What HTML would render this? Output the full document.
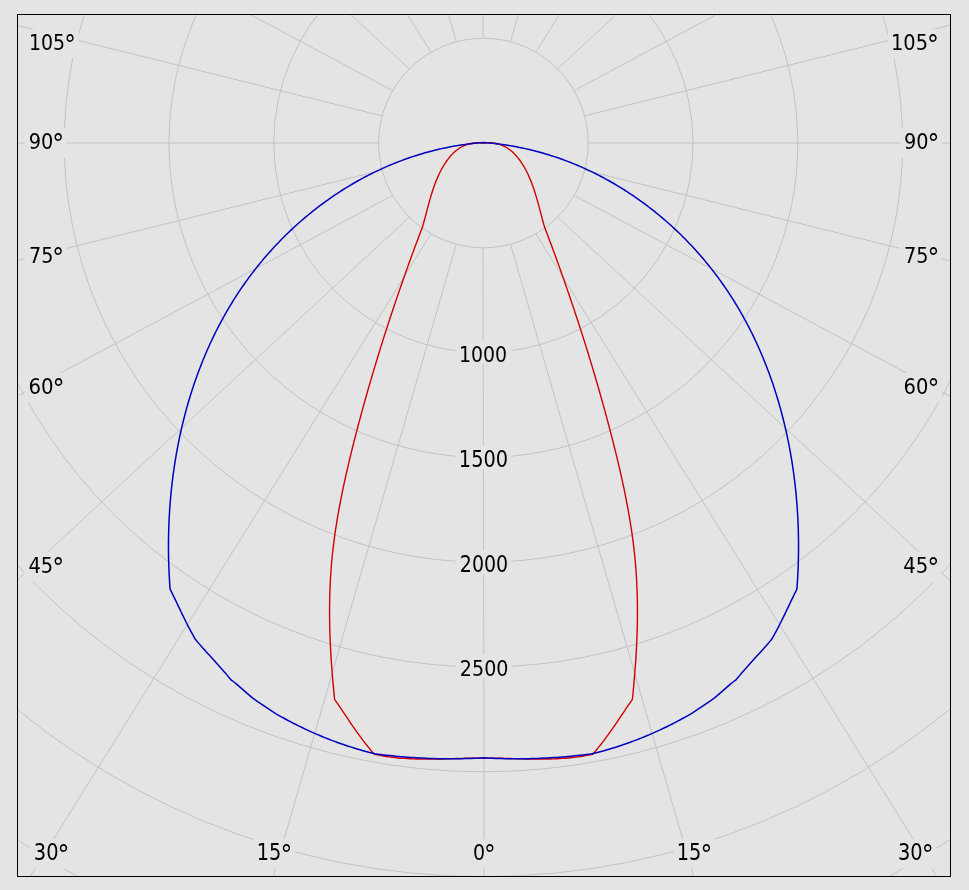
<!DOCTYPE html>
<html><head><meta charset="utf-8"><title>Polar diagram</title>
<style>
html,body{margin:0;padding:0;background:#e4e4e4;}
body{width:969px;height:890px;overflow:hidden;}
svg{display:block;}
text{font-family:'DejaVu Sans',sans-serif;font-stretch:condensed;font-size:22px;fill:#000;}
</style></head>
<body>
<svg width="969" height="890" viewBox="0 0 969 890">
<defs><clipPath id="c"><rect x="18" y="15" width="932" height="861"/></clipPath></defs>
<rect x="0" y="0" width="969" height="890" fill="#e4e4e4"/>
<g clip-path="url(#c)">
<g fill="none" stroke="#c3c3c3" stroke-width="1">
<circle cx="483.4" cy="143" r="104.8"/>
<circle cx="483.4" cy="143" r="209.6"/>
<circle cx="483.4" cy="143" r="314.4"/>
<circle cx="483.4" cy="143" r="419.2"/>
<circle cx="483.4" cy="143" r="524"/>
<circle cx="483.4" cy="143" r="628.8"/>
<circle cx="483.4" cy="143" r="733.6"/>
<circle cx="483.4" cy="143" r="838.4"/>
<circle cx="483.4" cy="143" r="943.2"/>
<line x1="483" y1="247.8" x2="488.7" y2="3143"/>
<line x1="456.28" y1="244.23" x2="-382.3" y2="3142.01"/>
<line x1="510.52" y1="244.23" x2="1349.1" y2="3142.01"/>
<line x1="431" y1="233.76" x2="-1189" y2="2831.84"/>
<line x1="535.8" y1="233.76" x2="2155.8" y2="2831.84"/>
<line x1="409.3" y1="217.1" x2="-1881.73" y2="2338.43"/>
<line x1="557.5" y1="217.1" x2="2848.53" y2="2338.43"/>
<line x1="392.64" y1="195.4" x2="-2413.28" y2="1695.4"/>
<line x1="574.16" y1="195.4" x2="3380.08" y2="1695.4"/>
<line x1="382.17" y1="170.12" x2="-2747.43" y2="946.58"/>
<line x1="584.63" y1="170.12" x2="3714.23" y2="946.58"/>
<line x1="378.6" y1="143" x2="-2861.4" y2="143"/>
<line x1="588.2" y1="143" x2="3828.2" y2="143"/>
<line x1="382.17" y1="115.88" x2="-2747.43" y2="-660.58"/>
<line x1="584.63" y1="115.88" x2="3714.23" y2="-660.58"/>
<line x1="392.64" y1="90.6" x2="-2413.28" y2="-1409.4"/>
<line x1="574.16" y1="90.6" x2="3380.08" y2="-1409.4"/>
<line x1="409.3" y1="68.9" x2="-1881.73" y2="-2052.43"/>
<line x1="557.5" y1="68.9" x2="2848.53" y2="-2052.43"/>
<line x1="431" y1="52.24" x2="-1189" y2="-2545.84"/>
<line x1="535.8" y1="52.24" x2="2155.8" y2="-2545.84"/>
<line x1="456.28" y1="41.77" x2="-382.3" y2="-2856.01"/>
<line x1="510.52" y1="41.77" x2="1349.1" y2="-2856.01"/>
<line x1="483" y1="38.2" x2="483" y2="-2857"/>
</g>
<g fill="#e4e4e4">
<rect x="455.5" y="340.35" width="56" height="23.9"/>
<rect x="455.5" y="445.35" width="56" height="23.9"/>
<rect x="455.5" y="550.35" width="56" height="23.9"/>
<rect x="455.5" y="654.5" width="56" height="23.9"/>
<rect x="25.9" y="29.2" width="52.8" height="29"/>
<rect x="24.7" y="128" width="41.9" height="29.5"/>
<rect x="24.9" y="242" width="41.7" height="29.4"/>
<rect x="24.4" y="373" width="42.6" height="29.3"/>
<rect x="24.4" y="552.3" width="42.2" height="29"/>
<rect x="29.8" y="838.8" width="42.1" height="29.6"/>
<rect x="253.8" y="838.8" width="40.9" height="29.6"/>
<rect x="468.9" y="839.1" width="29.9" height="29.4"/>
<rect x="673.8" y="838.8" width="40.9" height="29.6"/>
<rect x="893.9" y="838.8" width="42.1" height="29.6"/>
<rect x="899.2" y="552.1" width="42.6" height="29.3"/>
<rect x="899.6" y="373" width="42.2" height="29.5"/>
<rect x="899.9" y="242" width="41.9" height="29.4"/>
<rect x="899.9" y="128" width="41.9" height="29.5"/>
<rect x="888" y="29.2" width="53.8" height="29"/>
</g>
<g>
<text transform="translate(458.99 361.8) scale(0.955 0.994)">1000</text>
<text transform="translate(458.85 466.9) scale(0.977 1.006)">1500</text>
<text transform="translate(459.84 571.9) scale(0.960 1.006)">2000</text>
<text transform="translate(459.84 675.9) scale(0.965 0.987)">2500</text>
<text transform="translate(28.98 49.7) scale(0.958 0.969)">105<tspan style="font-size:27px" dx="-1" dy="4">°</tspan></text>
<text transform="translate(28.72 149) scale(0.976 1.000)">90<tspan style="font-size:27px" dx="-1" dy="4">°</tspan></text>
<text transform="translate(28.93 262.9) scale(0.970 0.994)">75<tspan style="font-size:27px" dx="-1" dy="4">°</tspan></text>
<text transform="translate(28.4 393.8) scale(0.997 0.988)">60<tspan style="font-size:27px" dx="-1" dy="4">°</tspan></text>
<text transform="translate(28.42 572.8) scale(0.985 0.969)">45<tspan style="font-size:27px" dx="-1" dy="4">°</tspan></text>
<text transform="translate(33.82 859.9) scale(0.982 1.006)">30<tspan style="font-size:27px" dx="-1" dy="4">°</tspan></text>
<text transform="translate(256.85 859.9) scale(0.975 1.006)">15<tspan style="font-size:27px" dx="-1" dy="4">°</tspan></text>
<text transform="translate(472.94 860) scale(0.962 0.994)">0<tspan style="font-size:27px" dx="-1" dy="4">°</tspan></text>
<text transform="translate(676.85 859.9) scale(0.975 1.006)">15<tspan style="font-size:27px" dx="-1" dy="4">°</tspan></text>
<text transform="translate(897.92 859.9) scale(0.982 1.006)">30<tspan style="font-size:27px" dx="-1" dy="4">°</tspan></text>
<text transform="translate(903.2 572.9) scale(0.997 0.987)">45<tspan style="font-size:27px" dx="-1" dy="4">°</tspan></text>
<text transform="translate(903.62 394) scale(0.985 1.000)">60<tspan style="font-size:27px" dx="-1" dy="4">°</tspan></text>
<text transform="translate(903.92 262.9) scale(0.976 0.994)">75<tspan style="font-size:27px" dx="-1" dy="4">°</tspan></text>
<text transform="translate(903.92 149) scale(0.976 1.000)">90<tspan style="font-size:27px" dx="-1" dy="4">°</tspan></text>
<text transform="translate(891.04 49.7) scale(0.980 0.969)">105<tspan style="font-size:27px" dx="-1" dy="4">°</tspan></text>
</g>
<polyline fill="none" stroke="#d00000" stroke-width="1.4" stroke-linejoin="round" points="483.5,143.3 480.03,142.86 476.7,142.75 473.52,142.95 470.48,143.45 467.58,144.22 464.81,145.25 462.17,146.52 459.65,148.01 457.26,149.7 454.98,151.57 452.82,153.61 450.78,155.79 448.84,158.1 447,160.52 445.27,163.03 443.64,165.62 442.09,168.28 440.64,170.99 439.26,173.77 437.96,176.6 436.73,179.47 435.57,182.38 434.47,185.33 433.43,188.31 432.43,191.31 431.48,194.32 430.57,197.34 429.69,200.37 428.85,203.4 428.03,206.43 427.22,209.44 426.43,212.43 425.65,215.39 424.87,218.33 424.09,221.23 423.3,224.09 422.5,226.9 421.43,229.71 420.36,232.52 419.3,235.33 418.24,238.14 417.19,240.96 416.14,243.78 415.09,246.6 414.05,249.42 413.01,252.24 411.97,255.07 410.94,257.89 409.92,260.72 408.89,263.55 407.87,266.38 406.86,269.22 405.85,272.05 404.84,274.89 403.84,277.73 402.84,280.57 401.84,283.41 400.85,286.26 399.87,289.11 398.88,291.95 397.9,294.8 396.93,297.66 395.96,300.51 394.99,303.37 394.03,306.22 393.07,309.08 392.12,311.94 391.17,314.8 390.22,317.67 389.28,320.53 388.35,323.4 387.42,326.27 386.49,329.14 385.56,332.01 384.64,334.89 383.73,337.76 382.82,340.64 381.91,343.52 381.01,346.4 380.11,349.28 379.22,352.17 378.33,355.05 377.45,357.94 376.57,360.83 375.69,363.72 374.82,366.61 373.96,369.51 373.09,372.4 372.24,375.3 371.39,378.2 370.54,381.1 369.69,384 368.86,386.9 368.02,389.81 367.19,392.71 366.37,395.62 365.55,398.53 364.73,401.44 363.92,404.36 363.11,407.27 362.31,410.18 361.52,413.1 360.72,416.02 359.94,418.94 359.15,421.86 358.38,424.79 357.6,427.71 356.84,430.64 356.07,433.56 355.31,436.49 354.56,439.42 353.82,442.36 353.07,445.29 352.34,448.22 351.61,451.16 350.89,454.1 350.17,457.04 349.47,459.98 348.77,462.92 348.08,465.86 347.39,468.81 346.72,471.76 346.05,474.7 345.39,477.65 344.74,480.6 344.1,483.55 343.47,486.51 342.85,489.46 342.24,492.42 341.65,495.38 341.06,498.33 340.48,501.29 339.91,504.25 339.36,507.22 338.82,510.18 338.29,513.15 337.77,516.11 337.27,519.08 336.78,522.05 336.31,525.02 335.84,527.99 335.4,530.96 334.96,533.94 334.55,536.91 334.15,539.89 333.76,542.87 333.39,545.85 333.04,548.83 332.7,551.81 332.38,554.79 332.08,557.78 331.8,560.76 331.53,563.75 331.29,566.74 331.06,569.73 330.85,572.72 330.65,575.71 330.47,578.7 330.31,581.69 330.17,584.69 330.04,587.68 329.93,590.68 329.83,593.68 329.75,596.68 329.68,599.68 329.63,602.68 329.6,605.69 329.58,608.69 329.57,611.69 329.58,614.7 329.6,617.71 329.63,620.72 329.68,623.73 329.74,626.74 329.82,629.75 329.91,632.76 330.01,635.77 330.12,638.79 330.25,641.81 330.38,644.82 330.53,647.84 330.69,650.86 330.86,653.88 331.04,656.9 331.23,659.92 331.44,662.95 331.65,665.97 331.87,669 332.11,672.02 332.35,675.05 332.6,678.08 332.86,681.11 333.13,684.14 333.41,687.17 333.69,690.2 333.99,693.23 334.29,696.27 334.6,699.3 336.35,701.83 338.08,704.38 339.81,706.93 341.53,709.48 343.25,712.04 344.97,714.61 346.69,717.17 348.41,719.73 350.14,722.28 351.87,724.83 353.62,727.37 355.38,729.9 357.16,732.42 358.96,734.93 360.78,737.41 362.62,739.88 364.48,742.33 366.38,744.76 368.31,747.16 370.27,749.54 372.26,751.88 374.3,754.2 377.28,754.85 380.26,755.43 383.26,755.97 386.25,756.46 389.26,756.89 392.27,757.28 395.28,757.63 398.3,757.93 401.32,758.19 404.35,758.41 407.38,758.6 410.41,758.76 413.45,758.88 416.49,758.97 419.54,759.04 422.58,759.08 425.63,759.1 428.68,759.1 431.73,759.08 434.78,759.05 437.83,759 440.88,758.94 443.94,758.87 446.99,758.79 450.04,758.71 453.09,758.62 456.14,758.54 459.19,758.45 462.24,758.37 465.29,758.3 468.33,758.23 471.37,758.18 474.41,758.13 477.44,758.1 480.47,758.09 483.5,758.1 486.53,758.09 489.56,758.1 492.59,758.13 495.63,758.18 498.67,758.23 501.71,758.3 504.76,758.37 507.81,758.45 510.86,758.54 513.91,758.62 516.96,758.71 520.01,758.79 523.06,758.87 526.12,758.94 529.17,759 532.22,759.05 535.27,759.08 538.32,759.1 541.37,759.1 544.42,759.08 547.46,759.04 550.51,758.97 553.55,758.88 556.59,758.76 559.62,758.6 562.65,758.41 565.68,758.19 568.7,757.93 571.72,757.63 574.73,757.28 577.74,756.89 580.75,756.46 583.74,755.97 586.74,755.43 589.72,754.85 592.7,754.2 594.74,751.88 596.73,749.54 598.69,747.16 600.62,744.76 602.52,742.33 604.38,739.88 606.22,737.41 608.04,734.93 609.84,732.42 611.62,729.9 613.38,727.37 615.13,724.83 616.86,722.28 618.59,719.73 620.31,717.17 622.03,714.61 623.75,712.04 625.47,709.48 627.19,706.93 628.92,704.38 630.65,701.83 632.4,699.3 632.71,696.27 633.01,693.23 633.31,690.2 633.59,687.17 633.87,684.14 634.14,681.11 634.4,678.08 634.65,675.05 634.89,672.02 635.13,669 635.35,665.97 635.56,662.95 635.77,659.92 635.96,656.9 636.14,653.88 636.31,650.86 636.47,647.84 636.62,644.82 636.75,641.81 636.88,638.79 636.99,635.77 637.09,632.76 637.18,629.75 637.26,626.74 637.32,623.73 637.37,620.72 637.4,617.71 637.42,614.7 637.43,611.69 637.42,608.69 637.4,605.69 637.37,602.68 637.32,599.68 637.25,596.68 637.17,593.68 637.07,590.68 636.96,587.68 636.83,584.69 636.69,581.69 636.53,578.7 636.35,575.71 636.15,572.72 635.94,569.73 635.71,566.74 635.47,563.75 635.2,560.76 634.92,557.78 634.62,554.79 634.3,551.81 633.96,548.83 633.61,545.85 633.24,542.87 632.85,539.89 632.45,536.91 632.04,533.94 631.6,530.96 631.16,527.99 630.69,525.02 630.22,522.05 629.73,519.08 629.23,516.11 628.71,513.15 628.18,510.18 627.64,507.22 627.09,504.25 626.52,501.29 625.94,498.33 625.35,495.38 624.76,492.42 624.15,489.46 623.53,486.51 622.9,483.55 622.26,480.6 621.61,477.65 620.95,474.7 620.28,471.76 619.61,468.81 618.92,465.86 618.23,462.92 617.53,459.98 616.83,457.04 616.11,454.1 615.39,451.16 614.66,448.22 613.93,445.29 613.18,442.36 612.44,439.42 611.69,436.49 610.93,433.56 610.16,430.64 609.4,427.71 608.62,424.79 607.85,421.86 607.06,418.94 606.28,416.02 605.48,413.1 604.69,410.18 603.89,407.27 603.08,404.36 602.27,401.44 601.45,398.53 600.63,395.62 599.81,392.71 598.98,389.81 598.14,386.9 597.31,384 596.46,381.1 595.61,378.2 594.76,375.3 593.91,372.4 593.04,369.51 592.18,366.61 591.31,363.72 590.43,360.83 589.55,357.94 588.67,355.05 587.78,352.17 586.89,349.28 585.99,346.4 585.09,343.52 584.18,340.64 583.27,337.76 582.36,334.89 581.44,332.01 580.51,329.14 579.58,326.27 578.65,323.4 577.72,320.53 576.78,317.67 575.83,314.8 574.88,311.94 573.93,309.08 572.97,306.22 572.01,303.37 571.04,300.51 570.07,297.66 569.1,294.8 568.12,291.95 567.13,289.11 566.15,286.26 565.16,283.41 564.16,280.57 563.16,277.73 562.16,274.89 561.15,272.05 560.14,269.22 559.13,266.38 558.11,263.55 557.08,260.72 556.06,257.89 555.03,255.07 553.99,252.24 552.95,249.42 551.91,246.6 550.86,243.78 549.81,240.96 548.76,238.14 547.7,235.33 546.64,232.52 545.57,229.71 544.5,226.9 543.7,224.09 542.91,221.23 542.13,218.33 541.35,215.39 540.57,212.43 539.78,209.44 538.97,206.43 538.15,203.4 537.31,200.37 536.43,197.34 535.52,194.32 534.57,191.31 533.57,188.31 532.53,185.33 531.43,182.38 530.27,179.47 529.04,176.6 527.74,173.77 526.36,170.99 524.91,168.28 523.36,165.62 521.73,163.03 520,160.52 518.16,158.1 516.22,155.79 514.18,153.61 512.02,151.57 509.74,149.7 507.35,148.01 504.83,146.52 502.19,145.25 499.42,144.22 496.52,143.45 493.48,142.95 490.3,142.75 486.97,142.86 483.5,143.3"/>
<polyline fill="none" stroke="#0000c0" stroke-width="1.5" stroke-linejoin="round" points="483.5,142.6 480.47,142.82 477.45,143.07 474.43,143.36 471.42,143.68 468.42,144.04 465.42,144.42 462.43,144.84 459.45,145.29 456.47,145.77 453.5,146.28 450.54,146.83 447.58,147.4 444.64,148.01 441.7,148.64 438.77,149.31 435.85,150 432.93,150.73 430.03,151.48 427.13,152.26 424.24,153.08 421.36,153.92 418.49,154.79 415.63,155.68 412.78,156.61 409.94,157.56 407.11,158.54 404.28,159.55 401.47,160.59 398.67,161.65 395.88,162.74 393.1,163.86 390.33,165 387.58,166.18 384.83,167.37 382.09,168.6 379.37,169.85 376.66,171.12 373.96,172.43 371.27,173.75 368.6,175.11 365.93,176.49 363.28,177.89 360.64,179.32 358.02,180.77 355.41,182.25 352.81,183.75 350.22,185.28 347.65,186.83 345.09,188.4 342.55,190 340.02,191.62 337.5,193.26 335,194.93 332.51,196.62 330.04,198.33 327.59,200.06 325.14,201.82 322.72,203.6 320.3,205.4 317.91,207.22 315.53,209.06 313.16,210.92 310.81,212.8 308.48,214.71 306.17,216.63 303.87,218.58 301.59,220.54 299.32,222.52 297.07,224.53 294.84,226.55 292.63,228.59 290.43,230.65 288.25,232.73 286.09,234.83 283.95,236.94 281.82,239.08 279.72,241.23 277.63,243.4 275.56,245.59 273.51,247.79 271.48,250.01 269.47,252.25 267.48,254.5 265.51,256.77 263.55,259.06 261.62,261.36 259.71,263.68 257.82,266.02 255.94,268.36 254.09,270.73 252.26,273.11 250.45,275.5 248.66,277.91 246.9,280.33 245.15,282.77 243.43,285.22 241.72,287.68 240.04,290.16 238.38,292.65 236.74,295.16 235.12,297.68 233.52,300.21 231.95,302.75 230.39,305.3 228.85,307.87 227.34,310.45 225.85,313.05 224.37,315.65 222.92,318.27 221.49,320.89 220.08,323.53 218.68,326.18 217.31,328.84 215.96,331.51 214.63,334.2 213.32,336.89 212.03,339.59 210.76,342.3 209.51,345.03 208.28,347.76 207.07,350.5 205.88,353.26 204.71,356.02 203.56,358.79 202.43,361.57 201.32,364.36 200.23,367.15 199.16,369.96 198.11,372.77 197.07,375.59 196.06,378.42 195.06,381.26 194.09,384.11 193.13,386.96 192.2,389.82 191.28,392.69 190.38,395.56 189.5,398.44 188.64,401.33 187.8,404.22 186.98,407.12 186.17,410.03 185.39,412.94 184.62,415.86 183.87,418.78 183.14,421.71 182.43,424.64 181.74,427.58 181.06,430.53 180.4,433.47 179.77,436.43 179.15,439.39 178.54,442.35 177.96,445.31 177.39,448.28 176.85,451.26 176.32,454.23 175.81,457.21 175.31,460.2 174.83,463.18 174.38,466.17 173.93,469.16 173.51,472.16 173.1,475.16 172.72,478.16 172.34,481.16 171.99,484.16 171.65,487.16 171.34,490.17 171.03,493.18 170.75,496.19 170.48,499.2 170.23,502.21 170,505.22 169.78,508.23 169.58,511.24 169.39,514.25 169.23,517.26 169.08,520.28 168.94,523.29 168.83,526.3 168.73,529.31 168.64,532.32 168.58,535.33 168.52,538.33 168.49,541.34 168.47,544.34 168.47,547.34 168.48,550.34 168.51,553.34 168.56,556.34 168.62,559.33 168.7,562.32 168.79,565.31 168.9,568.3 169.02,571.28 169.16,574.26 169.32,577.23 169.49,580.21 169.68,583.18 169.88,586.14 170.1,589.1 171.5,591.92 172.88,594.74 174.25,597.57 175.62,600.4 176.97,603.24 178.32,606.07 179.68,608.91 181.03,611.74 182.4,614.57 183.77,617.39 185.16,620.21 186.56,623.01 187.98,625.81 189.43,628.6 190.9,631.37 192.4,634.13 193.93,636.87 195.5,639.6 197.48,641.87 199.46,644.13 201.46,646.39 203.46,648.64 205.46,650.89 207.47,653.13 209.48,655.37 211.49,657.61 213.5,659.85 215.51,662.1 217.52,664.34 219.52,666.59 221.52,668.84 223.51,671.1 225.5,673.36 227.48,675.63 229.44,677.91 231.4,680.2 233.87,682 236.26,683.88 238.6,685.83 240.9,687.83 243.18,689.86 245.45,691.9 247.74,693.92 250.05,695.9 252.41,697.84 254.82,699.69 257.31,701.45 259.9,703.1 267.8,708.4 276,713.8 278.65,715.32 281.32,716.81 283.99,718.28 286.68,719.74 289.38,721.17 292.08,722.58 294.8,723.98 297.53,725.35 300.27,726.7 303.02,728.02 305.78,729.33 308.54,730.61 311.32,731.88 314.11,733.12 316.91,734.33 319.72,735.53 322.53,736.7 325.36,737.85 328.19,738.98 331.04,740.09 333.89,741.17 336.75,742.23 339.62,743.26 342.5,744.27 345.39,745.26 348.28,746.23 351.18,747.16 354.1,748.08 357.02,748.97 359.94,749.84 362.88,750.68 365.82,751.5 368.78,752.29 371.73,753.06 374.7,753.8 377.7,754.18 380.71,754.54 383.72,754.89 386.73,755.22 389.74,755.55 392.75,755.85 395.77,756.15 398.78,756.42 401.8,756.69 404.82,756.94 407.84,757.17 410.86,757.39 413.88,757.59 416.91,757.78 419.93,757.95 422.96,758.11 425.98,758.25 429.01,758.38 432.04,758.49 435.06,758.58 438.09,758.66 441.12,758.72 444.15,758.77 447.18,758.8 450.2,758.81 453.23,758.8 456.26,758.78 459.29,758.74 462.32,758.69 465.35,758.61 468.37,758.52 471.4,758.41 474.43,758.29 477.45,758.14 480.48,757.98 483.5,757.8 486.52,757.98 489.55,758.14 492.57,758.29 495.6,758.41 498.63,758.52 501.65,758.61 504.68,758.69 507.71,758.74 510.74,758.78 513.77,758.8 516.8,758.81 519.82,758.8 522.85,758.77 525.88,758.72 528.91,758.66 531.94,758.58 534.96,758.49 537.99,758.38 541.02,758.25 544.04,758.11 547.07,757.95 550.09,757.78 553.12,757.59 556.14,757.39 559.16,757.17 562.18,756.94 565.2,756.69 568.22,756.42 571.23,756.15 574.25,755.85 577.26,755.55 580.27,755.22 583.28,754.89 586.29,754.54 589.3,754.18 592.3,753.8 595.27,753.06 598.22,752.29 601.18,751.5 604.12,750.68 607.06,749.84 609.98,748.97 612.9,748.08 615.82,747.16 618.72,746.23 621.61,745.26 624.5,744.27 627.38,743.26 630.25,742.23 633.11,741.17 635.96,740.09 638.81,738.98 641.64,737.85 644.47,736.7 647.28,735.53 650.09,734.33 652.89,733.12 655.68,731.88 658.46,730.61 661.22,729.33 663.98,728.02 666.73,726.7 669.47,725.35 672.2,723.98 674.92,722.58 677.62,721.17 680.32,719.74 683.01,718.28 685.68,716.81 688.35,715.32 691,713.8 699.2,708.4 707.1,703.1 709.69,701.45 712.18,699.69 714.59,697.84 716.95,695.9 719.26,693.92 721.55,691.9 723.82,689.86 726.1,687.83 728.4,685.83 730.74,683.88 733.13,682 735.6,680.2 737.56,677.91 739.52,675.63 741.5,673.36 743.49,671.1 745.48,668.84 747.48,666.59 749.48,664.34 751.49,662.1 753.5,659.85 755.51,657.61 757.52,655.37 759.53,653.13 761.54,650.89 763.54,648.64 765.54,646.39 767.54,644.13 769.52,641.87 771.5,639.6 773.07,636.87 774.6,634.13 776.1,631.37 777.57,628.6 779.02,625.81 780.44,623.01 781.84,620.21 783.23,617.39 784.6,614.57 785.97,611.74 787.32,608.91 788.68,606.07 790.03,603.24 791.38,600.4 792.75,597.57 794.12,594.74 795.5,591.92 796.9,589.1 797.12,586.14 797.32,583.18 797.51,580.21 797.68,577.23 797.84,574.26 797.98,571.28 798.1,568.3 798.21,565.31 798.3,562.32 798.38,559.33 798.44,556.34 798.49,553.34 798.52,550.34 798.53,547.34 798.53,544.34 798.51,541.34 798.48,538.33 798.42,535.33 798.36,532.32 798.27,529.31 798.17,526.3 798.06,523.29 797.92,520.28 797.77,517.26 797.61,514.25 797.42,511.24 797.22,508.23 797,505.22 796.77,502.21 796.52,499.2 796.25,496.19 795.97,493.18 795.66,490.17 795.35,487.16 795.01,484.16 794.66,481.16 794.28,478.16 793.9,475.16 793.49,472.16 793.07,469.16 792.62,466.17 792.17,463.18 791.69,460.2 791.19,457.21 790.68,454.23 790.15,451.26 789.61,448.28 789.04,445.31 788.46,442.35 787.85,439.39 787.23,436.43 786.6,433.47 785.94,430.53 785.26,427.58 784.57,424.64 783.86,421.71 783.13,418.78 782.38,415.86 781.61,412.94 780.83,410.03 780.02,407.12 779.2,404.22 778.36,401.33 777.5,398.44 776.62,395.56 775.72,392.69 774.8,389.82 773.87,386.96 772.91,384.11 771.94,381.26 770.94,378.42 769.93,375.59 768.89,372.77 767.84,369.96 766.77,367.15 765.68,364.36 764.57,361.57 763.44,358.79 762.29,356.02 761.12,353.26 759.93,350.5 758.72,347.76 757.49,345.03 756.24,342.3 754.97,339.59 753.68,336.89 752.37,334.2 751.04,331.51 749.69,328.84 748.32,326.18 746.92,323.53 745.51,320.89 744.08,318.27 742.63,315.65 741.15,313.05 739.66,310.45 738.15,307.87 736.61,305.3 735.05,302.75 733.48,300.21 731.88,297.68 730.26,295.16 728.62,292.65 726.96,290.16 725.28,287.68 723.57,285.22 721.85,282.77 720.1,280.33 718.34,277.91 716.55,275.5 714.74,273.11 712.91,270.73 711.06,268.36 709.18,266.02 707.29,263.68 705.38,261.36 703.45,259.06 701.49,256.77 699.52,254.5 697.53,252.25 695.52,250.01 693.49,247.79 691.44,245.59 689.37,243.4 687.28,241.23 685.18,239.08 683.05,236.94 680.91,234.83 678.75,232.73 676.57,230.65 674.37,228.59 672.16,226.55 669.93,224.53 667.68,222.52 665.41,220.54 663.13,218.58 660.83,216.63 658.52,214.71 656.19,212.8 653.84,210.92 651.47,209.06 649.09,207.22 646.7,205.4 644.28,203.6 641.86,201.82 639.41,200.06 636.96,198.33 634.49,196.62 632,194.93 629.5,193.26 626.98,191.62 624.45,190 621.91,188.4 619.35,186.83 616.78,185.28 614.19,183.75 611.59,182.25 608.98,180.77 606.36,179.32 603.72,177.89 601.07,176.49 598.4,175.11 595.73,173.75 593.04,172.43 590.34,171.12 587.63,169.85 584.91,168.6 582.17,167.37 579.42,166.18 576.67,165 573.9,163.86 571.12,162.74 568.33,161.65 565.53,160.59 562.72,159.55 559.89,158.54 557.06,157.56 554.22,156.61 551.37,155.68 548.51,154.79 545.64,153.92 542.76,153.08 539.87,152.26 536.97,151.48 534.07,150.73 531.15,150 528.23,149.31 525.3,148.64 522.36,148.01 519.42,147.4 516.46,146.83 513.5,146.28 510.53,145.77 507.55,145.29 504.57,144.84 501.58,144.42 498.58,144.04 495.58,143.68 492.57,143.36 489.55,143.07 486.53,142.82 483.5,142.6"/>
</g>
<rect x="17.5" y="14.5" width="933" height="862" fill="none" stroke="#000" stroke-width="1"/>
</svg>
</body></html>
